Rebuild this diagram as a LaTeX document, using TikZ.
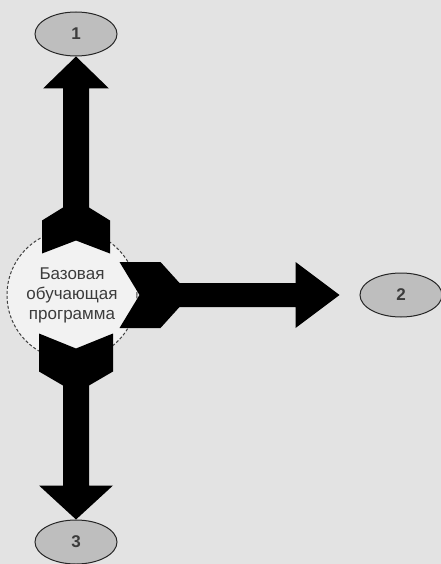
\documentclass[tikz,border=0pt]{standalone}
\usepackage{fontspec}
\setmainfont{Liberation Sans}
\usetikzlibrary{shapes.geometric,calc}
\definecolor{scanbg}{HTML}{E3E3E3}
\definecolor{ovalgray}{HTML}{BEBEBE}
\definecolor{inkgray}{HTML}{3C3C3C}
\tikzset{
  oval/.style={ellipse,draw=black!85,line width=1pt,fill=ovalgray,
    minimum width=82pt,minimum height=44pt,inner sep=0pt,
    font=\bfseries\fontsize{17}{17}\selectfont,text=inkgray},
  hub/.style={circle,draw=black!75,densely dashed,line width=1pt,
    fill=white!95!black,minimum size=130pt,inner sep=0pt,align=center,
    font=\fontsize{17}{20}\selectfont,text=inkgray},
  pipe/.style={fill=black}
}
\begin{document}
\begin{tikzpicture}[x=1pt,y=-1pt]
\fill[scanbg] (0,0) rectangle (441,564);
\useasboundingbox (0,0) rectangle (441,564);
\node[hub] (base) at (72,295) {Базовая\\обучающая\\программа};
\node[oval] (out1) at (76,34) {1};
\node[oval] (out2) at (401,295) {2};
\node[oval] (out3) at (76,542) {3};
\coordinate (tip2) at ($(out2.west)+(-20,0)$);
% upward arrow with notched foot
\fill[pipe] (out1.south) -- ++(33,32) -- ++(-20,0) -- ++(0,119) -- ++(21,13)
  -- ++(0,33) -- ++(-34,-13) -- ++(-34,13) -- ++(0,-33) -- ++(21,-13)
  -- ++(0,-119) -- ++(-20,0) -- cycle;
% rightward arrow
\fill[pipe] (tip2) -- ++(-44,-33) -- ++(0,21) -- ++(-116,0) -- ++(-19,-21)
  -- ++(-41,0) -- ++(20,33) -- ++(-20,33) -- ++(41,0) -- ++(19,-21)
  -- ++(116,0) -- ++(0,21) -- cycle;
% downward arrow
\fill[pipe] (out3.north) -- ++(37,-34) -- ++(-24,0) -- ++(0,-100) -- ++(24,-14)
  -- ++(0,-38) -- ++(-37,15) -- ++(-37,-15) -- ++(0,38) -- ++(24,14)
  -- ++(0,100) -- ++(-24,0) -- cycle;
\end{tikzpicture}
\end{document}
